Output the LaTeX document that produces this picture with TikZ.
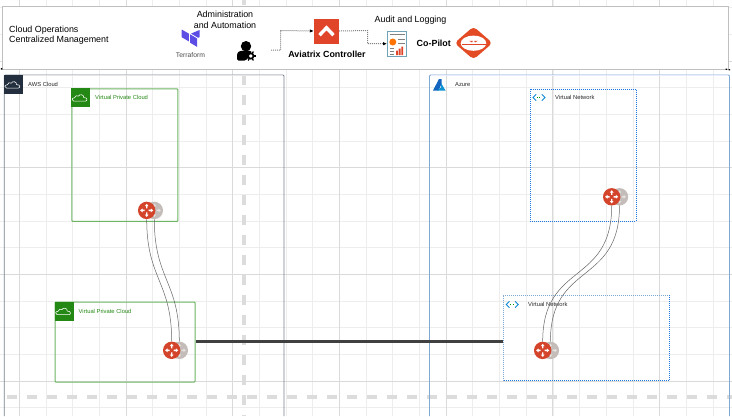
\documentclass[tikz,border=0pt]{standalone}
\usepackage{fontspec}
\setmainfont{Liberation Sans}
\usetikzlibrary{arrows.meta}
\definecolor{gridminor}{HTML}{EDEDED}
\definecolor{gridmajor}{HTML}{DADADA}
\definecolor{dashgrey}{HTML}{DCDCDC}
\definecolor{avred}{HTML}{E04529}
\definecolor{routerred}{HTML}{D4442A}
\definecolor{ghost}{HTML}{C4BCB8}
\definecolor{vpcgreen}{HTML}{248814}
\definecolor{vpcedge}{HTML}{6DB563}
\definecolor{awsdark}{HTML}{232F3E}
\definecolor{awsedge}{HTML}{77808C}
\definecolor{azedge}{HTML}{7FA9D2}
\definecolor{vnetblue}{HTML}{1E78E0}
\definecolor{tfpurple}{HTML}{5C4EE5}
\definecolor{azblue}{HTML}{1565C0}
\tikzset{
  x=1pt,y=-1pt,
  txt/.style={font=\fontsize{8.9}{10.6}\selectfont,text=black,inner sep=0pt,align=left},
  ctr/.style={txt,align=center},
  boldtxt/.style={font=\fontsize{8.9}{10.6}\selectfont\bfseries,inner sep=0pt},
  small/.style={font=\fontsize{5.8}{7}\selectfont,inner sep=0pt,anchor=west},
  vpcbox/.style={draw=vpcedge,line width=1pt,rounded corners=.8pt},
  vnetbox/.style={draw=vnetblue,line width=1pt,densely dotted},
  dot/.style={draw=black!50,line width=1pt,densely dotted,-{Latex[black,length=4pt,width=3.5pt]}},
  tunnel/.style={draw=black!60,line width=.5pt},
  routerc/.style={circle,fill=routerred,minimum size=17.4pt,inner sep=0pt},
  ghostc/.style={circle,fill=ghost,minimum size=17.4pt,inner sep=0pt},
  cloudsq/.style={fill=vpcgreen},
  tf/.style={fill=tfpurple}
}
\newcommand{\arrowsat}[2]{%
  \foreach \a in {0,90,180,270}{
    \begin{scope}[shift={(#1)},rotate=\a]
      \fill[#2] (2,-.7) -- (4.2,-.7) -- (4.2,-1.9) -- (6.6,0) -- (4.2,1.9) -- (4.2,.7) -- (2,.7) -- cycle;
    \end{scope}}}
\newcommand{\cloudicon}[3]{%
  \draw[#3,line width=.55pt,line join=round,shift={(#1,#2)}]
    (-6.2,3.2) .. controls (-8.6,3.2) and (-8.6,-.4) .. (-5.4,-.2)
    .. controls (-5.2,-2.4) and (-2.6,-3) .. (-1.6,-1.8)
    .. controls (-.6,-4.2) and (4,-3.8) .. (3.8,-.4)
    .. controls (7.8,-.6) and (7.8,3.2) .. (5.2,3.2) -- cycle;}
\newcommand{\vneticon}[2]{%
  \begin{scope}[shift={(#1,#2)}]
    \draw[cyan!70!blue,line width=.8pt] (-2.8,-3.2) -- (-6,0) -- (-2.8,3.2);
    \draw[cyan!70!blue,line width=.8pt] (2.8,-3.2) -- (6,0) -- (2.8,3.2);
    \draw[green!60!black,line width=.8pt,dotted] (-2.4,0) -- (2.4,0);
  \end{scope}}
\begin{document}
\begin{tikzpicture}
\useasboundingbox (0,0) rectangle (732,416);
\fill[white] (0,0) rectangle (732,416);
% grid
\foreach \i in {-1,...,28}{
  \draw[gridminor,line width=.8pt] ({19.3+26.68*\i},0) -- ({19.3+26.68*\i},416);}
\foreach \i in {-1,...,16}{
  \draw[gridminor,line width=.8pt] (0,{7.6+26.68*\i}) -- (732,{7.6+26.68*\i});}
\foreach \i in {0,...,6}{
  \draw[gridmajor,line width=.8pt] ({19.3+106.7*\i},0) -- ({19.3+106.7*\i},416);}
\foreach \i in {0,...,3}{
  \draw[gridmajor,line width=.8pt] (0,{61+106.7*\i}) -- (732,{61+106.7*\i});}
\draw[dashgrey,line width=3.2pt,dash pattern=on 10pt off 10pt] (244,-5) -- (244,416);
\draw[dashgrey,line width=3.2pt,dash pattern=on 10pt off 10pt] (7,397) -- (732,397);
% top band
\node[draw=black!25,fill=white,line width=.9pt,minimum width=726.5pt,minimum height=63pt,inner sep=0pt,anchor=north west] (band) at (1.5,5.5) {};
\fill[black] (0.8,68) rectangle (2.4,69.6) (725.5,68.6) rectangle (727,69.8) (728.5,69.2) rectangle (730,70.4);
\node[txt,anchor=north west] (ops) at (9,25.6) {Cloud Operations\\Centralized Management};
\node[ctr] (adm) at (225,20) {Administration\\and Automation};
\node[ctr] (aud) at (410.5,20) {Audit and Logging};
% terraform
\fill[tf] (181.7,29.5) -- (188.8,33.6) -- (188.8,41.4) -- (181.7,37.2) -- cycle;
\fill[tf] (190,34.3) -- (197,38.4) -- (197,46.8) -- (190,42.6) -- cycle;
\fill[tf] (198.2,37.8) -- (199.6,37) -- (199.6,30) -- (191,33.6) -- cycle;
\node[font=\fontsize{6.8}{7}\selectfont,text=black!70,inner sep=0pt] (tfl) at (190.5,55) {Terraform};
% user icon
\fill[black] (246,46.2) circle (5.2);
\fill[black,rounded corners=1.5pt] (237,60.5) -- (237,55) .. controls (238,51) and (242,50.5) .. (246,50.5) .. controls (249,50.5) and (251,51) .. (252,53) -- (246,60.5) -- cycle;
\draw[black,line width=1.7pt,fill=white] (250.8,56) circle (2.7);
\foreach \a in {0,60,...,300}{\draw[black,line width=1.3pt] (250.8,56) ++(\a:3.4) -- ++(\a:1.8);}
\coordinate (usr) at (271,50);
% aviatrix
\node[fill=avred,minimum size=25pt,inner sep=0pt] (avx) at (326.5,31) {};
\draw[white,line width=3.4pt,line join=miter] (319.5,35.2) -- (326.5,27.8) -- (333.5,35.2);
\node[boldtxt] (avl) at (327,54.5) {Aviatrix Controller};
% report
\node[draw=cyan!40!gray,line width=1pt,fill=white,minimum width=19pt,minimum height=25pt,inner sep=0pt] (rep) at (397,43.7) {};
\draw[gray,line width=1pt] (389.5,34.5) -- (404.5,34.5);
\fill[orange!90!red] (392.8,42) circle (3.5);
\draw[gray,line width=.8pt] (398,39.5) -- (404.5,39.5) (398,43) -- (404.5,43);
\draw[gray,line width=.8pt] (389.5,48.5) -- (394,48.5) (389.5,51.5) -- (394,51.5) (389.5,54.5) -- (394,54.5);
\fill[avred] (396,50.5) rectangle (397.8,55) (398.7,48.5) rectangle (400.5,55) (401.4,46.5) rectangle (403.2,55);
\node[boldtxt] (cop) at (433.8,43) {Co-Pilot};
% copilot icon
\fill[avred!90!orange,rounded corners=4pt] (473.5,26.5) -- (492.5,43) -- (473.5,59.5) -- (454.5,43) -- cycle;
\fill[white] (473.5,43.2) ellipse (12.8 and 7.6);
\draw[avred,line width=.8pt] (461.5,44.6) -- (485.5,44.6);
\fill[avred] (469,40.8) -- (473,40.8) -- (472,42.4) -- cycle (474,40.8) -- (478,40.8) -- (475,42.4) -- cycle;
\node[inner sep=0pt] (cpi) at (473.5,43) {};
% dotted connectors
\draw[dot] (usr) -| (280.5,30.5) -- (avx.west);
\draw[dot] (avx.east) -- (367.5,30.5) |- (rep.west);
% AWS
\draw[awsedge,line width=.8pt,rounded corners=1pt] (4.2,416) -- (4.2,75) -- (284,75) -- (284,416);
\draw[gridmajor!70,line width=1.4pt] (5,75.3) -- (282.5,75.3);
\node[fill=awsdark,minimum size=19pt,inner sep=0pt,anchor=north west] (awsi) at (4,75) {};
\cloudicon{12.8}{85}{white}
\node[small,text=black!85] (awsl) at (28,84.5) {AWS Cloud};
% Azure
\draw[azedge,line width=.8pt,rounded corners=1pt] (429.5,416) -- (429.5,75) -- (729.5,75) -- (729.5,416);
\draw[blue!8,line width=1.4pt] (431,75.3) -- (728,75.3);
\fill[azblue] (433,90.5) -- (439,79) -- (441.5,79) -- (441.5,84) -- (438.5,90.5) -- cycle;
\fill[azblue!70!cyan] (441,83) -- (445.5,90.5) -- (437,90.5) -- (441,87.5) -- cycle;
\node[small,text=black!85] (azl) at (455,84.5) {Azure};
% VPC 1
\node[vpcbox,minimum width=106pt,minimum height=132.4pt,inner sep=0pt,anchor=north west] (vpca) at (71.4,88.4) {};
\node[cloudsq,minimum size=19pt,inner sep=0pt,anchor=north west] (vpcai) at (71,88) {};
\cloudicon{80}{98}{white}
\node[small,text=vpcgreen] (vpcal) at (95,97.8) {Virtual Private Cloud};
% VPC 2
\node[vpcbox,minimum width=140pt,minimum height=80pt,inner sep=0pt,anchor=north west] (vpcb) at (54.5,301.5) {};
\node[cloudsq,minimum size=19pt,inner sep=0pt,anchor=north west] (vpcbi) at (54.5,301.5) {};
\cloudicon{63.5}{311.5}{white}
\node[small,text=vpcgreen] (vpcbl) at (78.5,311) {Virtual Private Cloud};
% VNet 1
\node[vnetbox,minimum width=106pt,minimum height=132pt,inner sep=0pt,anchor=north west] (vna) at (529.8,88.8) {};
\vneticon{539}{97.5}
\node[small,text=black!85] (vnal) at (555,97.5) {Virtual Network};
% VNet 2
\draw[azedge,line width=1pt,densely dotted] (503.2,381) -- (503.2,295.2) -- (669.5,295.2);
\draw[vnetblue,line width=1pt,densely dotted] (669.5,295.2) -- (669.5,380.8) -- (503.2,380.8);
\node[inner sep=0pt,minimum width=166.3pt,minimum height=85.6pt,anchor=north west] (vnb) at (503.2,295.2) {};
\vneticon{512.3}{304.5}
\node[small,text=black!85] (vnbl) at (528,304.5) {Virtual Network};
% routers
\node[ghostc] (ga) at (154.3,210.4) {};
\node[ghostc] (gb) at (179.3,350.3) {};
\node[ghostc] (gc) at (619.5,196.8) {};
\node[ghostc] (gd) at (550.4,350.4) {};
\arrowsat{ga}{white!55!ghost}
\arrowsat{gb}{white!55!ghost}
\arrowsat{gc}{white!55!ghost}
\arrowsat{gd}{white!55!ghost}
\node[routerc] (ra) at (146.7,210.4) {};
\node[routerc] (rb) at (171.7,350.3) {};
\node[routerc] (rc) at (611.7,196.8) {};
\node[routerc] (rd) at (542.7,350.4) {};
\arrowsat{ra}{white}
\arrowsat{rb}{white}
\arrowsat{rc}{white}
\arrowsat{rd}{white}
% tunnels
\draw[tunnel] (ra.south) .. controls +(0,60) and +(0,-60) .. (rb.north);
\draw[tunnel] (ga.south) .. controls +(0,60) and +(0,-60) .. (gb.north);
\draw[tunnel] (rc.south) .. controls +(0,80) and +(0,-80) .. (rd.north);
\draw[tunnel] (gc.south) .. controls +(0,80) and +(0,-80) .. (gd.north);
% backbone
\draw[black!75,line width=2.3pt] (vpcb.east |- 0,341.5) -- (vnb.west |- 0,341.5);
\end{tikzpicture}
\end{document}
